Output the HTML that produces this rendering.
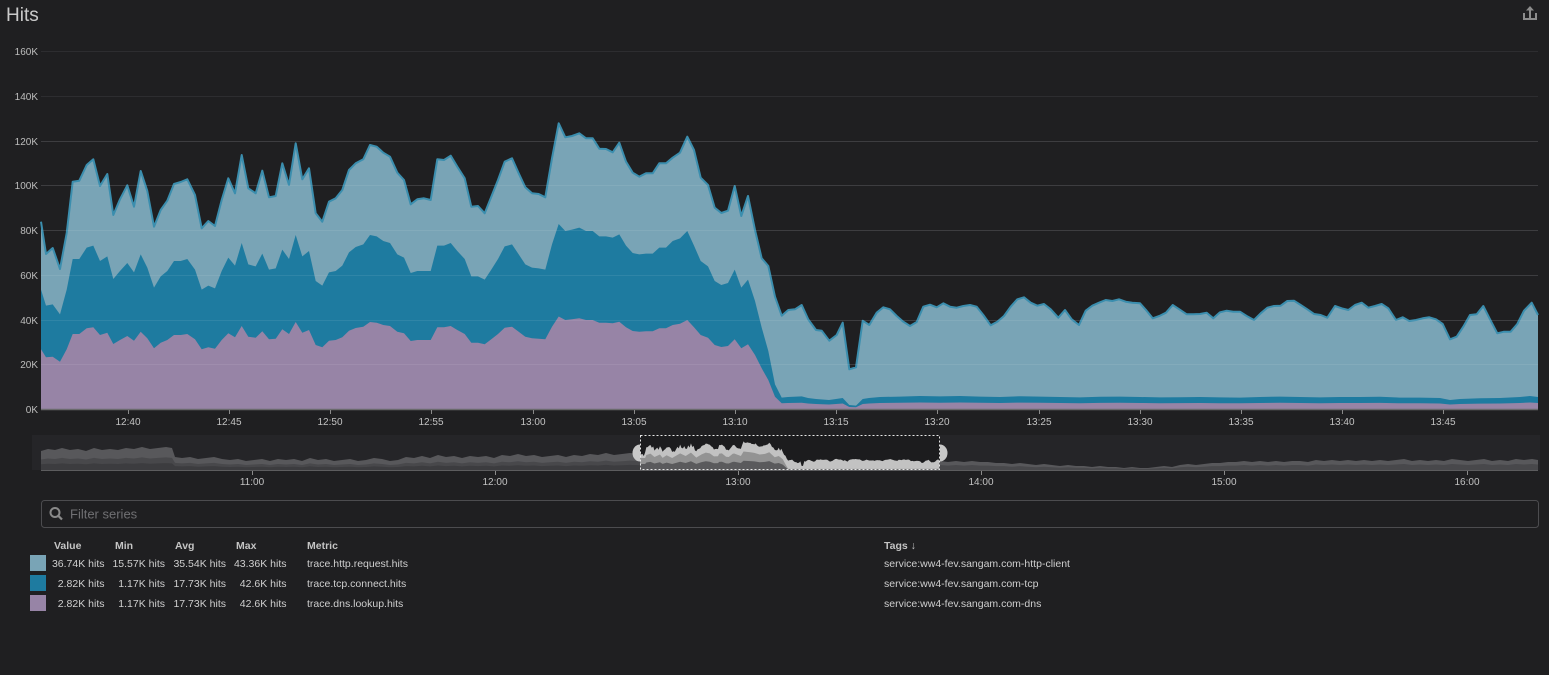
<!DOCTYPE html>
<html><head><meta charset="utf-8"><style>
html,body{margin:0;padding:0;background:#1f1f21;}
svg{display:block;font-family:"Liberation Sans",sans-serif;}
</style></head><body>
<svg width="1549" height="675" viewBox="0 0 1549 675" xmlns="http://www.w3.org/2000/svg">
<rect x="0" y="0" width="1549" height="675" fill="#1f1f21"/>
<text x="6" y="21" font-size="19" fill="#cacaca">Hits</text>
<!-- share icon -->
<g stroke="#8c8c8c" stroke-width="2" fill="none">
<path d="M1524,13 V19 H1536 V13"/>
<path d="M1530,18 V9"/>
</g>
<polygon points="1526,10.5 1530,6 1534,10.5" fill="#8c8c8c"/>

<!-- gridlines base -->
<g stroke="#2d2d30" stroke-width="1">
<line x1="41" y1="51.5" x2="1538" y2="51.5"/>
<line x1="41" y1="96.5" x2="1538" y2="96.5"/>
<line x1="41" y1="141.5" x2="1538" y2="141.5"/>
<line x1="41" y1="185.5" x2="1538" y2="185.5"/>
<line x1="41" y1="230.5" x2="1538" y2="230.5"/>
<line x1="41" y1="275.5" x2="1538" y2="275.5"/>
<line x1="41" y1="320.5" x2="1538" y2="320.5"/>
<line x1="41" y1="364.5" x2="1538" y2="364.5"/>
</g>

<!-- http area -->
<polygon fill="#79a4b6" points="41,221.7 46,254 52.7,248 60,269 66.7,233 72.7,181.7 79.3,180.7 86.7,165 93.3,159.3 100,186 107.3,174 113.3,215 120,199.3 127.3,185.3 134,206.7 140.7,171 147.3,191 154,226.7 160.7,210 167.3,200.7 174,184 180.7,182 187.3,179.3 195,195 201.7,228.3 208.3,221 215,226 221.7,200 228.3,178.3 235,193.3 241.7,155 248.3,188.3 255.7,193.3 262.3,170.7 269,197.3 275.7,196 282.3,163.3 289,185 295.7,143.3 302.3,179.3 309,168.3 315.7,213.3 322.3,221.7 329,201.7 335.7,198.3 342.3,190 349,170 355.7,163.3 363.3,159.3 370,145 376.7,146.7 383.3,152.7 390,156.7 397.3,172.7 404,180 410.7,204.3 417.3,199.3 424,198.3 430.7,200 437.3,159.3 444,160 450.7,155.7 457.3,166.7 464.7,178.3 471.3,206.7 478,206 484.7,213.3 491.3,196.7 498,180 504.7,161.7 512,158.3 518.7,173.3 525.3,187.3 532,193.3 538.7,194 545.3,197.3 552,158.3 558.7,123.3 565.3,137.3 572,136 579.3,133.3 586,138.3 592.7,138.3 599.3,148.7 606,149 612.7,152.3 619.3,142.7 626,161.7 632.7,172.7 639.3,176.7 646,173.3 652.7,173.3 659.3,163.3 666,163.3 672.7,157.7 680,152.7 687.3,136.7 694,150 700.7,177.7 708,185 714.7,207.7 721.3,213 728,210.7 734.7,186 741.3,216 748,196 755,230 761.7,258.3 768.3,266 775,296.7 781.7,315.7 788.3,310 795,309.3 801.7,305 808.3,319.5 816,330 821.7,330.7 829.3,340.7 836.7,335 842.7,322.7 849.3,369.3 856,367.3 862.7,320.7 869.3,325 876.7,312.7 883.3,307.3 890,309.3 896.7,316 903.3,321.7 910,326 916.7,322 923.3,306.7 930,304.7 936.7,307.3 943.3,303.3 950,306.7 956.7,307.7 963.3,306 970,305 976.7,306.7 983.3,315 990.7,325.3 997.3,321.7 1004,316 1010.7,306.7 1017.3,299.3 1024,297.3 1030.7,302.7 1037.3,305.7 1044,304 1050.7,309.3 1058.3,317.7 1065,310 1071.7,319.3 1079,325 1085.7,310.7 1092.3,305.7 1099,302.7 1105.7,300 1112.3,301 1119,299.3 1125.7,301.7 1132.3,302.7 1140,303.3 1146,310 1152.7,318.3 1159.3,316 1166,312.7 1172.7,305 1179.3,309.3 1186.7,314.3 1193.3,314.3 1200,314 1206.7,312.7 1213.3,318.3 1220,312.3 1226.7,310.7 1233.3,311.7 1240,311.7 1246.7,316 1254,320 1260.7,313.3 1267.3,307.7 1274,306 1280.7,305.7 1287.3,301 1294,300.7 1300.7,305 1307.3,309.3 1314,314 1320.7,315 1327.3,317.7 1335,306 1341.7,308.3 1348.3,310 1355,305 1361.7,302.7 1368.3,307.7 1375,306 1381.7,304 1388.3,308.3 1396,320 1402.7,317.3 1409.3,321 1416,320 1422.7,318.3 1429.3,317.3 1436,319.3 1442.7,324 1450,339.3 1456.7,336.7 1463.3,326.7 1470,315 1476.7,314.3 1483.3,306 1490,319.3 1497.3,333.3 1504,331.7 1510.7,331.7 1517.3,324 1524,310.7 1531.7,302.7 1538,315 1538,409 41,409"/>

<!-- tcp area (dns doubled) -->
<polygon fill="#1e7ba0" transform="translate(0,-409) scale(1,2)" points="41,349.3 46,357.3 52.7,356.7 60,361.7 66.7,349.3 72.7,334 79.3,334 86.7,328.3 93.3,327.3 100,335 107.3,332.7 113.3,344 120,340 127.3,336 134,340.7 140.7,331.7 147.3,338.3 154,348.3 160.7,342.7 167.3,340 174,335 180.7,335 187.3,334 195,339.3 201.7,349.3 208.3,347.3 215,348.7 221.7,340 228.3,333.3 235,337.3 241.7,326 248.3,336.7 255.7,337.7 262.3,331.3 269,339.3 275.7,338.7 282.3,329.3 289,334 295.7,322 302.3,332.7 309,330 315.7,345 322.3,347.3 329,340.7 335.7,340 342.3,337.3 349,330.7 355.7,328 363.3,326.7 370,322 376.7,322.7 383.3,325 390,326 397.3,331.7 404,333.3 410.7,341 417.3,340 424,340 430.7,340 437.3,327.3 444,327.3 450.7,326 457.3,330 464.7,334 471.3,342.7 478,342.7 484.7,344.3 491.3,339.3 498,334 504.7,327.7 512,326.7 518.7,331.7 525.3,336.7 532,338.3 538.7,338.7 545.3,339.3 552,326.7 558.7,316.5 565.3,320 572,319.3 579.3,318.3 586,320 592.7,320 599.3,322.7 606,322.7 612.7,323.3 619.3,321.7 626,327.3 632.7,331 639.3,331.7 646,331.3 652.7,331.3 659.3,328.3 666,328.3 672.7,325 680,323.7 687.3,320 694,327.3 700.7,335 708,337.7 714.7,345 721.3,347 728,346 734.7,339.3 741.3,348.3 748,344.3 755,355 761.7,368.3 768.3,380 775,396.7 781.7,403.3 788,403 801.7,402.7 808,403.5 816,404 829,404.5 836,404 842.7,403.5 849.3,407 856,407.3 862.7,404 869,403.5 880,403 900,402.8 920,402.5 940,402.7 960,402.5 980,402.8 1000,403 1020,402.6 1040,402.8 1060,403 1080,403.2 1100,402.9 1120,402.8 1140,403 1160,403.2 1180,403.1 1200,403 1220,403.2 1240,403.3 1260,403 1280,402.8 1300,403 1320,403.2 1340,403 1360,403 1380,402.9 1400,403.3 1420,403.3 1440,403.5 1450,404.5 1460,404 1480,403.6 1500,403.5 1520,403 1530,402.5 1538,403 1538,409 41,409"/>

<!-- dns area -->
<polygon fill="#9784a6" points="41,349.3 46,357.3 52.7,356.7 60,361.7 66.7,349.3 72.7,334 79.3,334 86.7,328.3 93.3,327.3 100,335 107.3,332.7 113.3,344 120,340 127.3,336 134,340.7 140.7,331.7 147.3,338.3 154,348.3 160.7,342.7 167.3,340 174,335 180.7,335 187.3,334 195,339.3 201.7,349.3 208.3,347.3 215,348.7 221.7,340 228.3,333.3 235,337.3 241.7,326 248.3,336.7 255.7,337.7 262.3,331.3 269,339.3 275.7,338.7 282.3,329.3 289,334 295.7,322 302.3,332.7 309,330 315.7,345 322.3,347.3 329,340.7 335.7,340 342.3,337.3 349,330.7 355.7,328 363.3,326.7 370,322 376.7,322.7 383.3,325 390,326 397.3,331.7 404,333.3 410.7,341 417.3,340 424,340 430.7,340 437.3,327.3 444,327.3 450.7,326 457.3,330 464.7,334 471.3,342.7 478,342.7 484.7,344.3 491.3,339.3 498,334 504.7,327.7 512,326.7 518.7,331.7 525.3,336.7 532,338.3 538.7,338.7 545.3,339.3 552,326.7 558.7,316.5 565.3,320 572,319.3 579.3,318.3 586,320 592.7,320 599.3,322.7 606,322.7 612.7,323.3 619.3,321.7 626,327.3 632.7,331 639.3,331.7 646,331.3 652.7,331.3 659.3,328.3 666,328.3 672.7,325 680,323.7 687.3,320 694,327.3 700.7,335 708,337.7 714.7,345 721.3,347 728,346 734.7,339.3 741.3,348.3 748,344.3 755,355 761.7,368.3 768.3,380 775,396.7 781.7,403.3 788,403 801.7,402.7 808,403.5 816,404 829,404.5 836,404 842.7,403.5 849.3,407 856,407.3 862.7,404 869,403.5 880,403 900,402.8 920,402.5 940,402.7 960,402.5 980,402.8 1000,403 1020,402.6 1040,402.8 1060,403 1080,403.2 1100,402.9 1120,402.8 1140,403 1160,403.2 1180,403.1 1200,403 1220,403.2 1240,403.3 1260,403 1280,402.8 1300,403 1320,403.2 1340,403 1360,403 1380,402.9 1400,403.3 1420,403.3 1440,403.5 1450,404.5 1460,404 1480,403.6 1500,403.5 1520,403 1530,402.5 1538,403 1538,409 41,409"/>

<!-- top stroke -->
<polyline fill="none" stroke="#3b8eae" stroke-width="2" stroke-linejoin="round" points="41,221.7 46,254 52.7,248 60,269 66.7,233 72.7,181.7 79.3,180.7 86.7,165 93.3,159.3 100,186 107.3,174 113.3,215 120,199.3 127.3,185.3 134,206.7 140.7,171 147.3,191 154,226.7 160.7,210 167.3,200.7 174,184 180.7,182 187.3,179.3 195,195 201.7,228.3 208.3,221 215,226 221.7,200 228.3,178.3 235,193.3 241.7,155 248.3,188.3 255.7,193.3 262.3,170.7 269,197.3 275.7,196 282.3,163.3 289,185 295.7,143.3 302.3,179.3 309,168.3 315.7,213.3 322.3,221.7 329,201.7 335.7,198.3 342.3,190 349,170 355.7,163.3 363.3,159.3 370,145 376.7,146.7 383.3,152.7 390,156.7 397.3,172.7 404,180 410.7,204.3 417.3,199.3 424,198.3 430.7,200 437.3,159.3 444,160 450.7,155.7 457.3,166.7 464.7,178.3 471.3,206.7 478,206 484.7,213.3 491.3,196.7 498,180 504.7,161.7 512,158.3 518.7,173.3 525.3,187.3 532,193.3 538.7,194 545.3,197.3 552,158.3 558.7,123.3 565.3,137.3 572,136 579.3,133.3 586,138.3 592.7,138.3 599.3,148.7 606,149 612.7,152.3 619.3,142.7 626,161.7 632.7,172.7 639.3,176.7 646,173.3 652.7,173.3 659.3,163.3 666,163.3 672.7,157.7 680,152.7 687.3,136.7 694,150 700.7,177.7 708,185 714.7,207.7 721.3,213 728,210.7 734.7,186 741.3,216 748,196 755,230 761.7,258.3 768.3,266 775,296.7 781.7,315.7 788.3,310 795,309.3 801.7,305 808.3,319.5 816,330 821.7,330.7 829.3,340.7 836.7,335 842.7,322.7 849.3,369.3 856,367.3 862.7,320.7 869.3,325 876.7,312.7 883.3,307.3 890,309.3 896.7,316 903.3,321.7 910,326 916.7,322 923.3,306.7 930,304.7 936.7,307.3 943.3,303.3 950,306.7 956.7,307.7 963.3,306 970,305 976.7,306.7 983.3,315 990.7,325.3 997.3,321.7 1004,316 1010.7,306.7 1017.3,299.3 1024,297.3 1030.7,302.7 1037.3,305.7 1044,304 1050.7,309.3 1058.3,317.7 1065,310 1071.7,319.3 1079,325 1085.7,310.7 1092.3,305.7 1099,302.7 1105.7,300 1112.3,301 1119,299.3 1125.7,301.7 1132.3,302.7 1140,303.3 1146,310 1152.7,318.3 1159.3,316 1166,312.7 1172.7,305 1179.3,309.3 1186.7,314.3 1193.3,314.3 1200,314 1206.7,312.7 1213.3,318.3 1220,312.3 1226.7,310.7 1233.3,311.7 1240,311.7 1246.7,316 1254,320 1260.7,313.3 1267.3,307.7 1274,306 1280.7,305.7 1287.3,301 1294,300.7 1300.7,305 1307.3,309.3 1314,314 1320.7,315 1327.3,317.7 1335,306 1341.7,308.3 1348.3,310 1355,305 1361.7,302.7 1368.3,307.7 1375,306 1381.7,304 1388.3,308.3 1396,320 1402.7,317.3 1409.3,321 1416,320 1422.7,318.3 1429.3,317.3 1436,319.3 1442.7,324 1450,339.3 1456.7,336.7 1463.3,326.7 1470,315 1476.7,314.3 1483.3,306 1490,319.3 1497.3,333.3 1504,331.7 1510.7,331.7 1517.3,324 1524,310.7 1531.7,302.7 1538,315"/>

<!-- grid overlay on areas -->
<g stroke="#ffffff" stroke-opacity="0.08" stroke-width="1">
<line x1="41" y1="141.5" x2="1538" y2="141.5"/>
<line x1="41" y1="185.5" x2="1538" y2="185.5"/>
<line x1="41" y1="230.5" x2="1538" y2="230.5"/>
<line x1="41" y1="275.5" x2="1538" y2="275.5"/>
<line x1="41" y1="320.5" x2="1538" y2="320.5"/>
<line x1="41" y1="364.5" x2="1538" y2="364.5"/>
</g>
<line x1="41" y1="409.5" x2="1538" y2="409.5" stroke="#6a6a6c" stroke-width="1.5"/>

<!-- y labels -->
<g font-size="10" fill="#bdbdbd" text-anchor="end">
<text x="38" y="55">160K</text>
<text x="38" y="100">140K</text>
<text x="38" y="145">120K</text>
<text x="38" y="189">100K</text>
<text x="38" y="234">80K</text>
<text x="38" y="279">60K</text>
<text x="38" y="324">40K</text>
<text x="38" y="368">20K</text>
<text x="38" y="413">0K</text>
</g>
<!-- x ticks -->
<g stroke="#8a8a8a" stroke-width="1">
<line x1="128.5" y1="410" x2="128.5" y2="414"/><line x1="229.5" y1="410" x2="229.5" y2="414"/><line x1="330.5" y1="410" x2="330.5" y2="414"/><line x1="431.5" y1="410" x2="431.5" y2="414"/><line x1="533.5" y1="410" x2="533.5" y2="414"/><line x1="634.5" y1="410" x2="634.5" y2="414"/><line x1="735.5" y1="410" x2="735.5" y2="414"/><line x1="836.5" y1="410" x2="836.5" y2="414"/><line x1="937.5" y1="410" x2="937.5" y2="414"/><line x1="1039.5" y1="410" x2="1039.5" y2="414"/><line x1="1140.5" y1="410" x2="1140.5" y2="414"/><line x1="1241.5" y1="410" x2="1241.5" y2="414"/><line x1="1342.5" y1="410" x2="1342.5" y2="414"/><line x1="1443.5" y1="410" x2="1443.5" y2="414"/>
</g>
<g font-size="10" fill="#c2c2c2" text-anchor="middle">
<text x="128" y="425">12:40</text><text x="229" y="425">12:45</text><text x="330" y="425">12:50</text><text x="431" y="425">12:55</text><text x="533" y="425">13:00</text><text x="634" y="425">13:05</text><text x="735" y="425">13:10</text><text x="836" y="425">13:15</text><text x="937" y="425">13:20</text><text x="1039" y="425">13:25</text><text x="1140" y="425">13:30</text><text x="1241" y="425">13:35</text><text x="1342" y="425">13:40</text><text x="1443" y="425">13:45</text>
</g>

<!-- navigator -->
<rect x="32" y="435" width="1508" height="35" fill="#252528"/>
<rect x="640" y="435" width="300" height="35" fill="#1c1c1e"/>
<g>
<polygon fill="#58585b" points="41,451 48,449 55,450 62,448 70,450 78,449 86,451 94,448 102,450 110,449 118,450 126,448 134,449 142,447 150,449 158,448 166,447 172,448 175,457 182,458 190,457 198,459 206,458 214,457 222,459 230,460 238,459 246,461 254,460 262,459 270,461 278,459 286,460 294,459 302,461 310,458 318,460 326,459 334,461 342,460 350,459 358,461 366,460 374,458 382,459 390,461 398,460 406,457 414,458 422,456 430,458 438,455 446,457 454,456 462,458 470,456 478,457 486,456 494,458 502,455 510,456 518,454 526,456 534,455 542,457 550,456 558,455 566,457 574,455 582,456 590,454 598,455 606,453 614,455 622,454 630,453 640,454 640,470 41,470"/>
<polygon fill="#48484b" transform="translate(0,211.5) scale(1,0.55)" points="41,451 48,449 55,450 62,448 70,450 78,449 86,451 94,448 102,450 110,449 118,450 126,448 134,449 142,447 150,449 158,448 166,447 172,448 175,457 182,458 190,457 198,459 206,458 214,457 222,459 230,460 238,459 246,461 254,460 262,459 270,461 278,459 286,460 294,459 302,461 310,458 318,460 326,459 334,461 342,460 350,459 358,461 366,460 374,458 382,459 390,461 398,460 406,457 414,458 422,456 430,458 438,455 446,457 454,456 462,458 470,456 478,457 486,456 494,458 502,455 510,456 518,454 526,456 534,455 542,457 550,456 558,455 566,457 574,455 582,456 590,454 598,455 606,453 614,455 622,454 630,453 640,454 640,470 41,470"/>
<polygon fill="#3c3c3f" transform="translate(0,329) scale(1,0.3)" points="41,451 48,449 55,450 62,448 70,450 78,449 86,451 94,448 102,450 110,449 118,450 126,448 134,449 142,447 150,449 158,448 166,447 172,448 175,457 182,458 190,457 198,459 206,458 214,457 222,459 230,460 238,459 246,461 254,460 262,459 270,461 278,459 286,460 294,459 302,461 310,458 318,460 326,459 334,461 342,460 350,459 358,461 366,460 374,458 382,459 390,461 398,460 406,457 414,458 422,456 430,458 438,455 446,457 454,456 462,458 470,456 478,457 486,456 494,458 502,455 510,456 518,454 526,456 534,455 542,457 550,456 558,455 566,457 574,455 582,456 590,454 598,455 606,453 614,455 622,454 630,453 640,454 640,470 41,470"/>
<polygon fill="#58585b" points="940,461 948,462 956,461 964,462 972,461 980,462 988,462 996,463 1004,463 1012,464 1020,463 1028,464 1036,465 1044,464 1052,465 1060,466 1068,465 1076,466 1084,466 1092,467 1100,466 1108,467 1116,467 1124,468 1132,467 1140,468 1148,468 1156,467 1164,466 1172,467 1180,465 1188,464 1196,465 1204,464 1212,463 1220,463 1228,462 1236,462 1244,461 1252,462 1260,461 1268,462 1276,461 1284,462 1292,461 1300,461 1308,462 1316,460 1324,461 1332,460 1340,461 1348,460 1356,461 1364,460 1372,461 1380,460 1388,461 1396,460 1404,459 1412,461 1420,460 1428,461 1436,460 1444,461 1452,459 1460,460 1468,461 1476,460 1484,459 1492,461 1500,460 1508,461 1516,459 1524,460 1532,459 1538,460 1538,470 940,470"/>
<polygon fill="#48484b" transform="translate(0,211.5) scale(1,0.55)" points="940,461 948,462 956,461 964,462 972,461 980,462 988,462 996,463 1004,463 1012,464 1020,463 1028,464 1036,465 1044,464 1052,465 1060,466 1068,465 1076,466 1084,466 1092,467 1100,466 1108,467 1116,467 1124,468 1132,467 1140,468 1148,468 1156,467 1164,466 1172,467 1180,465 1188,464 1196,465 1204,464 1212,463 1220,463 1228,462 1236,462 1244,461 1252,462 1260,461 1268,462 1276,461 1284,462 1292,461 1300,461 1308,462 1316,460 1324,461 1332,460 1340,461 1348,460 1356,461 1364,460 1372,461 1380,460 1388,461 1396,460 1404,459 1412,461 1420,460 1428,461 1436,460 1444,461 1452,459 1460,460 1468,461 1476,460 1484,459 1492,461 1500,460 1508,461 1516,459 1524,460 1532,459 1538,460 1538,470 940,470"/>
</g>
<!-- selected nav data (main chart scaled) -->
<g transform="translate(631.8,429.1) scale(0.2,0.1)">
<polygon fill="#c2c2c2" points="41,221.7 46,254 52.7,248 60,269 66.7,233 72.7,181.7 79.3,180.7 86.7,165 93.3,159.3 100,186 107.3,174 113.3,215 120,199.3 127.3,185.3 134,206.7 140.7,171 147.3,191 154,226.7 160.7,210 167.3,200.7 174,184 180.7,182 187.3,179.3 195,195 201.7,228.3 208.3,221 215,226 221.7,200 228.3,178.3 235,193.3 241.7,155 248.3,188.3 255.7,193.3 262.3,170.7 269,197.3 275.7,196 282.3,163.3 289,185 295.7,143.3 302.3,179.3 309,168.3 315.7,213.3 322.3,221.7 329,201.7 335.7,198.3 342.3,190 349,170 355.7,163.3 363.3,159.3 370,145 376.7,146.7 383.3,152.7 390,156.7 397.3,172.7 404,180 410.7,204.3 417.3,199.3 424,198.3 430.7,200 437.3,159.3 444,160 450.7,155.7 457.3,166.7 464.7,178.3 471.3,206.7 478,206 484.7,213.3 491.3,196.7 498,180 504.7,161.7 512,158.3 518.7,173.3 525.3,187.3 532,193.3 538.7,194 545.3,197.3 552,158.3 558.7,123.3 565.3,137.3 572,136 579.3,133.3 586,138.3 592.7,138.3 599.3,148.7 606,149 612.7,152.3 619.3,142.7 626,161.7 632.7,172.7 639.3,176.7 646,173.3 652.7,173.3 659.3,163.3 666,163.3 672.7,157.7 680,152.7 687.3,136.7 694,150 700.7,177.7 708,185 714.7,207.7 721.3,213 728,210.7 734.7,186 741.3,216 748,196 755,230 761.7,258.3 768.3,266 775,296.7 781.7,315.7 788.3,310 795,309.3 801.7,305 808.3,319.5 816,330 821.7,330.7 829.3,340.7 836.7,335 842.7,322.7 849.3,369.3 856,367.3 862.7,320.7 869.3,325 876.7,312.7 883.3,307.3 890,309.3 896.7,316 903.3,321.7 910,326 916.7,322 923.3,306.7 930,304.7 936.7,307.3 943.3,303.3 950,306.7 956.7,307.7 963.3,306 970,305 976.7,306.7 983.3,315 990.7,325.3 997.3,321.7 1004,316 1010.7,306.7 1017.3,299.3 1024,297.3 1030.7,302.7 1037.3,305.7 1044,304 1050.7,309.3 1058.3,317.7 1065,310 1071.7,319.3 1079,325 1085.7,310.7 1092.3,305.7 1099,302.7 1105.7,300 1112.3,301 1119,299.3 1125.7,301.7 1132.3,302.7 1140,303.3 1146,310 1152.7,318.3 1159.3,316 1166,312.7 1172.7,305 1179.3,309.3 1186.7,314.3 1193.3,314.3 1200,314 1206.7,312.7 1213.3,318.3 1220,312.3 1226.7,310.7 1233.3,311.7 1240,311.7 1246.7,316 1254,320 1260.7,313.3 1267.3,307.7 1274,306 1280.7,305.7 1287.3,301 1294,300.7 1300.7,305 1307.3,309.3 1314,314 1320.7,315 1327.3,317.7 1335,306 1341.7,308.3 1348.3,310 1355,305 1361.7,302.7 1368.3,307.7 1375,306 1381.7,304 1388.3,308.3 1396,320 1402.7,317.3 1409.3,321 1416,320 1422.7,318.3 1429.3,317.3 1436,319.3 1442.7,324 1450,339.3 1456.7,336.7 1463.3,326.7 1470,315 1476.7,314.3 1483.3,306 1490,319.3 1497.3,333.3 1504,331.7 1510.7,331.7 1517.3,324 1524,310.7 1531.7,302.7 1538,315 1538,409 41,409"/>
<polygon fill="#939393" transform="translate(0,-409) scale(1,2)" points="41,349.3 66.7,349.3 72.7,334 93.3,327.3 113.3,344 140.7,331.7 154,348.3 174,335 201.7,349.3 241.7,326 269,339.3 295.7,322 322.3,347.3 349,330.7 370,322 390,326 410.7,341 430.7,340 437.3,327.3 450.7,326 471.3,342.7 484.7,344.3 504.7,327.7 512,326.7 545.3,339.3 558.7,316.5 592.7,320 612.7,323.3 639.3,331.7 666,328.3 687.3,320 714.7,345 734.7,339.3 755,355 768.3,380 781.7,403.3 1538,403 1538,409 41,409"/>
<polygon fill="#5a5a5c" points="41,349.3 66.7,349.3 72.7,334 93.3,327.3 113.3,344 140.7,331.7 154,348.3 174,335 201.7,349.3 241.7,326 269,339.3 295.7,322 322.3,347.3 349,330.7 370,322 390,326 410.7,341 430.7,340 437.3,327.3 450.7,326 471.3,342.7 484.7,344.3 504.7,327.7 512,326.7 545.3,339.3 558.7,316.5 592.7,320 612.7,323.3 639.3,331.7 666,328.3 687.3,320 714.7,345 734.7,339.3 755,355 768.3,380 781.7,403.3 1538,403 1538,409 41,409"/>
</g>
<line x1="41" y1="470.5" x2="1538" y2="470.5" stroke="#5c5c5e" stroke-width="1"/>
<rect x="640.5" y="435.5" width="299" height="34" fill="none" stroke="#e6e6e6" stroke-width="1" stroke-dasharray="2,2"/>
<path d="M640,444.5 A7.5,8.5 0 0 0 640,461.5 Z" fill="#c8c8c8"/>
<path d="M940,444.5 A7.5,8.5 0 0 1 940,461.5 Z" fill="#c8c8c8"/>
<g stroke="#8a8a8a" stroke-width="1">
<line x1="252.5" y1="471" x2="252.5" y2="475"/><line x1="495.5" y1="471" x2="495.5" y2="475"/><line x1="738.5" y1="471" x2="738.5" y2="475"/><line x1="981.5" y1="471" x2="981.5" y2="475"/><line x1="1224.5" y1="471" x2="1224.5" y2="475"/><line x1="1467.5" y1="471" x2="1467.5" y2="475"/>
</g>
<g font-size="10" fill="#c2c2c2" text-anchor="middle">
<text x="252" y="485">11:00</text><text x="495" y="485">12:00</text><text x="738" y="485">13:00</text><text x="981" y="485">14:00</text><text x="1224" y="485">15:00</text><text x="1467" y="485">16:00</text>
</g>

<!-- filter box -->
<rect x="41.5" y="500.5" width="1497" height="27" rx="3" ry="3" fill="#1f1f21" stroke="#4c4c4f" stroke-width="1"/>
<circle cx="55" cy="512.5" r="4.5" fill="none" stroke="#8a8a8a" stroke-width="2"/>
<line x1="58.3" y1="515.8" x2="62" y2="519.5" stroke="#8a8a8a" stroke-width="2.2"/>
<text x="70" y="518.5" font-size="13" fill="#707073">Filter series</text>

<!-- legend -->
<g font-size="10.5" fill="#c4c4c4" font-weight="bold">
<text x="54" y="549">Value</text>
<text x="115" y="549">Min</text>
<text x="175" y="549">Avg</text>
<text x="236" y="549">Max</text>
<text x="307" y="549">Metric</text>
<text x="884" y="549">Tags ↓</text>
</g>
<rect x="30" y="555" width="16" height="16" fill="#79a4b6"/>
<rect x="30" y="575" width="16" height="16" fill="#1e7ba0"/>
<rect x="30" y="595" width="16" height="16" fill="#9784a6"/>
<g font-size="10.5" fill="#cfcfcf" text-anchor="end">
<text x="104.5" y="567">36.74K hits</text>
<text x="165" y="567">15.57K hits</text>
<text x="226" y="567">35.54K hits</text>
<text x="286.5" y="567">43.36K hits</text>
<text x="104.5" y="587">2.82K hits</text>
<text x="165" y="587">1.17K hits</text>
<text x="226" y="587">17.73K hits</text>
<text x="286.5" y="587">42.6K hits</text>
<text x="104.5" y="607">2.82K hits</text>
<text x="165" y="607">1.17K hits</text>
<text x="226" y="607">17.73K hits</text>
<text x="286.5" y="607">42.6K hits</text>
</g>
<g font-size="10.5" fill="#cfcfcf">
<text x="307" y="567">trace.http.request.hits</text>
<text x="307" y="587">trace.tcp.connect.hits</text>
<text x="307" y="607">trace.dns.lookup.hits</text>
<text x="884" y="567">service:ww4-fev.sangam.com-http-client</text>
<text x="884" y="587">service:ww4-fev.sangam.com-tcp</text>
<text x="884" y="607">service:ww4-fev.sangam.com-dns</text>
</g>
</svg>
</body></html>
